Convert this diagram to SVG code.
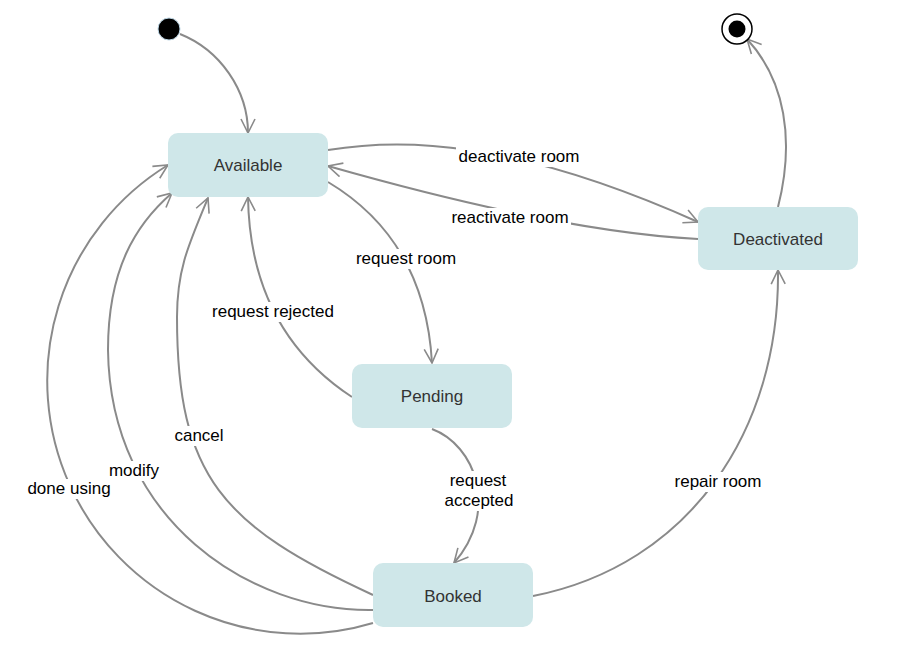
<svg xmlns="http://www.w3.org/2000/svg" width="918" height="658" viewBox="0 0 918 658">
<style>
.edge{fill:none;stroke:#8a8a8a;stroke-width:2;marker-end:url(#arr)}
.lbl-bg{fill:#ffffff}
.lbl{font-family:"Liberation Sans",Arial,sans-serif;font-size:17px;fill:#000;text-anchor:middle}
.state rect{fill:#cfe7e9}
.state text{font-family:"Liberation Sans",Arial,sans-serif;font-size:17px;fill:#333;text-anchor:middle}
</style>
<defs>
<marker id="arr" viewBox="0 0 16 16" refX="15" refY="8" markerWidth="16" markerHeight="16" markerUnits="userSpaceOnUse" orient="auto">
<path d="M1,1 L15,8 L1,15" fill="none" stroke="#8a8a8a" stroke-width="1.6"/>
</marker>
</defs>
<rect width="918" height="658" fill="#ffffff"/>
<g id="connectors">
<path class="edge" d="M180,34 C220,50 248,90 248,133"/>
<path class="edge" d="M328,150 C400,138 510,138 698,222"/>
<path class="edge" d="M698,239 Q560,232 328,166"/>
<path class="edge" d="M328,182 Q425,240 432,363"/>
<path class="edge" d="M352,397 Q250,330 248,197"/>
<path class="edge" d="M432,429 C475,445 500,510 454,563"/>
<path class="edge" d="M533,596 C690,565 780,430 778,270"/>
<path class="edge" d="M778,207 C795,140 785,80 747,39"/>
<path class="edge" d="M373,595 C223,526 177,477 177,317 C177,270 188,246 208,198"/>
<path class="edge" d="M373,610 C250,612 110,520 108,350 C108,270 135,225 172,193"/>
<path class="edge" d="M373,623 A253,253 0 0 1 168,165"/>
<g id="labels">
<rect class="lbl-bg" x="456" y="147" width="126" height="20"/>
<text class="lbl" x="519" y="162">deactivate room</text>
<rect class="lbl-bg" x="449" y="208" width="122" height="20"/>
<text class="lbl" x="510" y="223">reactivate room</text>
<rect class="lbl-bg" x="354" y="249" width="104" height="20"/>
<text class="lbl" x="406" y="264">request room</text>
<rect class="lbl-bg" x="210" y="302" width="126" height="20"/>
<text class="lbl" x="273" y="317">request rejected</text>
<rect class="lbl-bg" x="173" y="426" width="52" height="20"/>
<text class="lbl" x="199" y="441">cancel</text>
<rect class="lbl-bg" x="106" y="461" width="56" height="20"/>
<text class="lbl" x="134" y="476">modify</text>
<rect class="lbl-bg" x="25" y="479" width="88" height="20"/>
<text class="lbl" x="69" y="494">done using</text>
<rect class="lbl-bg" x="442" y="471" width="74" height="40"/>
<text class="lbl" x="478" y="486">request</text>
<text class="lbl" x="479" y="506">accepted</text>
<rect class="lbl-bg" x="672" y="472" width="93" height="20"/>
<text class="lbl" x="718" y="487">repair room</text>
</g>
</g>
<g id="start">
<circle cx="169" cy="29" r="11" fill="#000" stroke="#bcd6e6" stroke-width="1"/>
</g>
<g id="end">
<circle cx="737" cy="29" r="15" fill="#fff" stroke="#000" stroke-width="1.5"/>
<circle cx="737" cy="29" r="8.5" fill="#000"/>
</g>
<g id="Available" class="state">
<rect x="168" y="133" width="160" height="64" rx="10"/>
<text x="248" y="171">Available</text>
</g>
<g id="Deactivated" class="state">
<rect x="698" y="207" width="160" height="63" rx="10"/>
<text x="778" y="245">Deactivated</text>
</g>
<g id="Pending" class="state">
<rect x="352" y="364" width="160" height="64" rx="10"/>
<text x="432" y="402">Pending</text>
</g>
<g id="Booked" class="state">
<rect x="373" y="563" width="160" height="64" rx="10"/>
<text x="453" y="602">Booked</text>
</g>
</svg>
